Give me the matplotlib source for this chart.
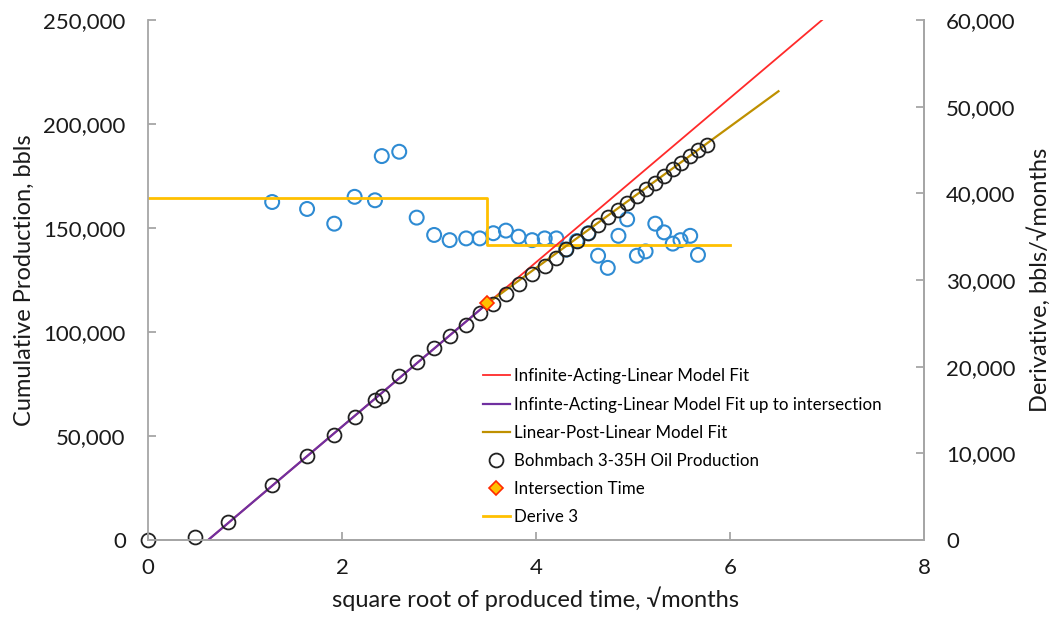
import matplotlib
matplotlib.use("Agg")
import matplotlib.pyplot as plt
from matplotlib.ticker import FuncFormatter

plt.rcParams['font.family'] = ['Lato', 'DejaVu Sans']

# sqrt of produced time (sqrt months) and cumulative oil, bbls
t_sqrt = [0.0, 0.48, 0.82, 1.28, 1.64, 1.92, 2.13, 2.34, 2.41, 2.59, 2.77, 2.95,
          3.11, 3.28, 3.42, 3.56, 3.69, 3.82, 3.96, 4.09, 4.21, 4.31, 4.42, 4.54,
          4.64, 4.74, 4.85, 4.94, 5.04, 5.13, 5.23, 5.32, 5.41, 5.49, 5.59, 5.67, 5.76]
cum_oil = [0, 1400, 8700, 26400, 40400, 50500, 59100, 67300, 69200, 78800, 85600, 92300,
           98100, 103400, 109100, 113500, 118300, 123100, 127900, 131700, 135600, 139900,
           143800, 147600, 151400, 155300, 158700, 162000, 165400, 168800, 171600, 175000,
           178400, 181300, 184600, 187500, 189900]

# derivative points, bbls/sqrt(month)
d_t = [1.28, 1.64, 1.92, 2.13, 2.34, 2.41, 2.59, 2.77, 2.95, 3.11, 3.28, 3.42, 3.56,
       3.69, 3.82, 3.96, 4.09, 4.21, 4.31, 4.42, 4.54, 4.64, 4.74, 4.85, 4.94, 5.04,
       5.13, 5.23, 5.32, 5.41, 5.49, 5.59, 5.67]
deriv = [39000, 38200, 36500, 39600, 39200, 44300, 44800, 37200, 35200, 34600, 34800,
         34800, 35400, 35700, 35000, 34600, 34800, 34800, 33500, 34500, 35400, 32800,
         31400, 35100, 37000, 32800, 33300, 36500, 35500, 34200, 34600, 35100, 32900]

# model parameters
t0 = 0.62          # x-intercept of linear fit
slope1 = 39500     # infinite-acting linear slope
slope2 = 34000     # post-linear slope
t_int = 3.5        # intersection time
t_end_ial = 6.95
t_end_lpl = 6.5
t_end_d3 = 6.0

q_int = slope1 * (t_int - t0)

fig = plt.figure(figsize=(10.55, 6.26), dpi=100)
ax = fig.add_axes([0.1403, 0.1374, 0.7355, 0.8306])
ax2 = ax.twinx()

# derivative on right axis
ax2.scatter(d_t, deriv, s=100, facecolors='none', edgecolors='#2E8BD3', linewidths=1.5, zorder=2)
ax2.step([0, t_int, t_end_d3], [slope1, slope2, slope2], where='post', color='#FFC000', lw=2,
         label='Derive 3', zorder=3)

# production and fits on left axis
l1, = ax.plot([t0, t_end_ial], [0, slope1 * (t_end_ial - t0)], color='#FF2A2A', lw=1.3,
              label='Infinite-Acting-Linear Model Fit')
l2, = ax.plot([t0, t_int], [0, q_int], color='#7030A0', lw=1.6,
              label='Infinte-Acting-Linear Model Fit up to intersection')
l3, = ax.plot([t_int, t_end_lpl], [q_int, q_int + slope2 * (t_end_lpl - t_int)], color='#BF9000',
              lw=1.6, label='Linear-Post-Linear Model Fit')
l4, = ax.plot(t_sqrt, cum_oil, 'o', ms=10, mfc='none', mec='#222222', mew=1.3,
              label='Bohmbach 3-35H Oil Production', clip_on=False)
l5, = ax.plot([t_int], [q_int], 'D', ms=7, mfc='#FFC000', mec='#FF2A00', mew=1.2,
              label='Intersection Time', zorder=5)
l6 = ax2.get_lines()[0]

ax.set_zorder(ax2.get_zorder() + 1)
ax.patch.set_visible(False)

ax.set_xlim(0, 8)
ax.set_ylim(0, 250000)
ax2.set_ylim(0, 60000)
ax.set_xticks([0, 2, 4, 6, 8])
ax.set_yticks(range(0, 250001, 50000))
ax2.set_yticks(range(0, 60001, 10000))
fmt = FuncFormatter(lambda v, p: f'{int(v):,}')
ax.yaxis.set_major_formatter(fmt)
ax2.yaxis.set_major_formatter(fmt)

for a in (ax, ax2):
    for s in a.spines.values():
        s.set_color('#A6A6A6')
        s.set_linewidth(1.3)
    a.spines['top'].set_visible(False)
    a.tick_params(direction='in', colors='#A6A6A6', labelcolor='#1A1A1A', labelsize=16,
                  length=6, width=1.3, pad=16)
ax.tick_params(axis='x', pad=13)
ax2.spines['left'].set_visible(False)

ax.set_xlabel('square root of produced time, √months', fontsize=17, color='#1A1A1A', labelpad=6)
ax.set_ylabel('Cumulative Production, bbls', fontsize=17, color='#1A1A1A', labelpad=6)
ax2.set_ylabel('Derivative, bbls/√months', fontsize=17, color='#1A1A1A', labelpad=8)

ax.legend([l1, l2, l3, l4, l5, l6], [h.get_label() for h in (l1, l2, l3, l4, l5, l6)],
          loc='upper left', bbox_to_anchor=(0.443, 0.436), bbox_transform=fig.transFigure,
          frameon=False, fontsize=12.2, handlelength=1.6, handletextpad=0.25, labelspacing=0.72)

fig.savefig('out.png', dpi=100)
